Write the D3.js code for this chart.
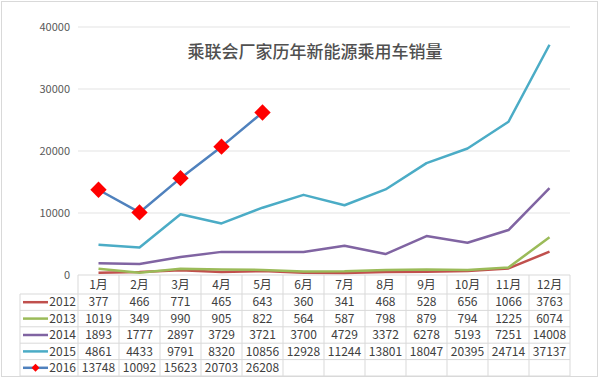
<!DOCTYPE html>
<html lang="zh">
<head>
<meta charset="UTF-8">
<title>乘联会厂家历年新能源乘用车销量</title>
<script src="https://d3js.org/d3.v7.min.js"></script>
<style>
  body { margin: 0; background: #fff; }
  svg { display: block; font-family: "Noto Sans CJK SC", "Noto Sans", sans-serif; }
</style>
</head>
<body>
<div id="chart"></div>
<script>
// 数据
const months = ["1月","2月","3月","4月","5月","6月","7月","8月","9月","10月","11月","12月"];
const years = ["2012","2013","2014","2015","2016"];
const s2012 = [377, 466, 771, 465, 643, 360, 341, 468, 528, 656, 1066, 3763];
const s2013 = [1019, 349, 990, 905, 822, 564, 587, 798, 879, 794, 1225, 6074];
const s2014 = [1893, 1777, 2897, 3729, 3721, 3700, 4729, 3372, 6278, 5193, 7251, 14008];
const s2015 = [4861, 4433, 9791, 8320, 10856, 12928, 11244, 13801, 18047, 20395, 24714, 37137];
const s2016 = [13748, 10092, 15623, 20703, 26208];
const yTicks = [0, 10000, 20000, 30000, 40000];
const colors = ["#c0504d", "#9bbb59", "#8064a2", "#4bacc6", "#4f81bd"];

const seriesList = [s2012, s2013, s2014, s2015, s2016].map((v, i) => ({ name: years[i], values: v, color: colors[i] }));

const width = 600, height = 378;
const svg = d3.select("#chart").append("svg")
  .attr("width", width).attr("height", height);

// 外框
svg.append("rect")
  .attr("x", 1.5).attr("y", 1.5).attr("width", width - 4).attr("height", height - 3)
  .attr("fill", "#fff").attr("stroke", "#d9d9d9");

const x = d3.scaleBand().domain(months).range([78, 570]);
const y = d3.scaleLinear().domain([0, 40000]).range([275, 27]);

// 网格线
svg.append("g").selectAll("line")
  .data(yTicks.slice(1))
  .join("line")
  .attr("x1", 78).attr("x2", 570)
  .attr("y1", d => y(d)).attr("y2", d => y(d))
  .attr("stroke", "#e3e3e3").attr("stroke-width", 1);

// y 轴标签
svg.append("g").selectAll("text")
  .data(yTicks)
  .join("text")
  .attr("x", 70).attr("y", d => y(d))
  .attr("dy", "0.35em")
  .attr("text-anchor", "end")
  .attr("font-size", 11)
  .attr("fill", "#595959")
  .text(d => d);

// 标题
svg.append("text")
  .attr("x", 315).attr("y", 52)
  .attr("dy", "0.35em")
  .attr("text-anchor", "middle")
  .attr("font-size", 17)
  .attr("font-weight", 500)
  .attr("fill", "#505050")
  .text("乘联会厂家历年新能源乘用车销量");

// 数据表
const headerTop = y(0), headerBottom = 294, tableBottom = 376;
const rowH = (tableBottom - headerBottom) / years.length;
const grid = svg.append("g").attr("stroke", "#d9d9d9").attr("stroke-width", 1);
// 横线
grid.append("line").attr("x1", 78).attr("x2", 570).attr("y1", headerTop).attr("y2", headerTop);
d3.range(years.length + 1).forEach(i => {
  const yy = headerBottom + i * rowH;
  grid.append("line").attr("x1", 20).attr("x2", 570).attr("y1", yy).attr("y2", yy);
});
// 竖线
const bounds = months.map(m => x(m)).concat([x.range()[1]]);
grid.selectAll(".v").data(bounds).join("line")
  .attr("x1", d => d).attr("x2", d => d)
  .attr("y1", headerTop).attr("y2", tableBottom);
grid.append("line").attr("x1", 20).attr("x2", 20).attr("y1", headerBottom).attr("y2", tableBottom);

// 表头
svg.append("g").selectAll("text")
  .data(months)
  .join("text")
  .attr("x", d => x(d) + x.bandwidth() / 2)
  .attr("y", (headerTop + headerBottom) / 2)
  .attr("dy", "0.35em")
  .attr("text-anchor", "middle")
  .attr("font-size", 12)
  .attr("fill", "#404040")
  .text(d => d);

// 表格行
seriesList.forEach((s, i) => {
  const cy = headerBottom + (i + 0.5) * rowH;
  const row = svg.append("g");
  row.append("line")
    .attr("x1", 23).attr("x2", 48).attr("y1", cy).attr("y2", cy)
    .attr("stroke", s.color).attr("stroke-width", 2.5);
  if (s.name === "2016") {
    row.append("path")
      .attr("d", d3.symbol(d3.symbolDiamond2, 40)())
      .attr("transform", `translate(35.5,${cy})`)
      .attr("fill", "#ff0000");
  }
  row.append("text")
    .attr("x", 76).attr("y", cy).attr("dy", "0.35em")
    .attr("text-anchor", "end")
    .attr("font-size", 12).attr("fill", "#404040")
    .text(s.name);
  row.selectAll(".val").data(s.values).join("text")
    .attr("x", (d, j) => x(months[j]) + x.bandwidth() / 2)
    .attr("y", cy).attr("dy", "0.35em")
    .attr("text-anchor", "middle")
    .attr("font-size", 12).attr("fill", "#404040")
    .text(d => d);
});

// 折线
const line = d3.line()
  .x((d, j) => x(months[j]) + x.bandwidth() / 2)
  .y(d => y(d));

svg.append("g").selectAll("path")
  .data(seriesList)
  .join("path")
  .attr("d", s => line(s.values))
  .attr("fill", "none")
  .attr("stroke", s => s.color)
  .attr("stroke-width", 2.5)
  .attr("stroke-linejoin", "round");

// 2016 标记
svg.append("g").selectAll("path")
  .data(s2016)
  .join("path")
  .attr("d", d3.symbol(d3.symbolDiamond2, 170)())
  .attr("transform", (d, j) => `translate(${x(months[j]) + x.bandwidth() / 2},${y(d)})`)
  .attr("fill", "#ff0000");
</script>
</body>
</html>
